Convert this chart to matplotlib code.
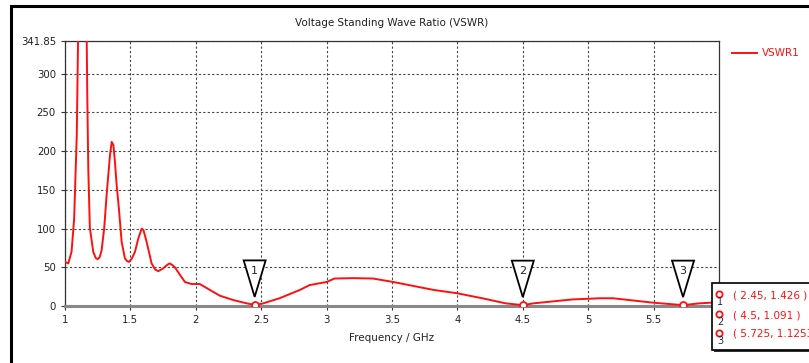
import numpy as np
import matplotlib
matplotlib.use("Agg")
import matplotlib.pyplot as plt
import matplotlib.transforms as mtransforms
from matplotlib.patches import Polygon, Rectangle

# VSWR curve
freq = [1.0, 1.025, 1.05, 1.07, 1.09, 1.10, 1.13, 1.166, 1.17, 1.178, 1.19, 1.216,
        1.235, 1.25, 1.265, 1.28, 1.30, 1.318, 1.344, 1.357, 1.37, 1.382, 1.395,
        1.412, 1.433, 1.458, 1.475, 1.489, 1.51, 1.535, 1.56, 1.586, 1.60,
        1.624, 1.662, 1.69, 1.713, 1.75, 1.78, 1.80, 1.82, 1.84, 1.88, 1.917,
        1.968, 2.03, 2.06, 2.108, 2.184, 2.286, 2.39, 2.45, 2.515, 2.64, 2.795,
        2.87, 2.95, 3.0, 3.06, 3.2, 3.355, 3.51, 3.82, 4.0, 4.19, 4.37, 4.5,
        4.58, 4.88, 5.09, 5.19, 5.495, 5.725, 5.85, 5.94, 6.0]
vswr = [57, 55, 70, 113, 221, 345, 450, 345, 277, 178, 101, 70,
        62, 60.5, 63, 72, 101, 143, 195, 212, 208, 186, 156,
        126, 83, 61.5, 58, 57, 61, 70, 87, 100, 98,
        83, 55, 47, 45, 48.5, 53, 55, 53, 50, 40, 31,
        28.4, 28.4, 25.5, 20.7, 13.3, 7.7, 3.4, 1.426, 3.4, 10, 20.7,
        27, 29.5, 31, 35.5, 36, 35.5, 31, 20.7, 16.4, 10, 3.4, 1.091,
        3.4, 8.5, 10, 10, 4.3, 1.1253, 3.4, 4.3, 5]

mark_f = [2.45, 4.5, 5.725]
mark_v = [1.426, 1.091, 1.1253]
mark_txt = ["2.45, 1.426", "4.5, 1.091", "5.725, 1.1253"]

yticks = [0, 50, 100, 150, 200, 250, 300, 341.85]
ytick_labels = ["0", "50", "100", "150", "200", "250", "300", "341.85"]
xticks = [1, 1.5, 2, 2.5, 3, 3.5, 4, 4.5, 5, 5.5]
xtick_labels = ["1", "1.5", "2", "2.5", "3", "3.5", "4", "4.5", "5", "5.5"]

W, H = 809, 363
fig = plt.figure(figsize=(W / 100, H / 100), dpi=100)
plt.rcParams['font.family'] = ['DejaVu Sans']

def fx(px):
    return px / W

def fy(py):
    return 1 - py / H

# outer frame
fig.add_artist(Rectangle((fx(11), fy(370)), fx(820) - fx(11), fy(6) - fy(370),
                         transform=fig.transFigure, fill=False, lw=2.2, ec='black'))

ax = fig.add_axes([fx(65), fy(306), fx(719) - fx(65), fy(41.4) - fy(306)])
ax.plot(freq, vswr, color='#ff1010', lw=1.4, zorder=3, clip_on=True,
        solid_joinstyle='round')
ax.set_xlim(1, 6)
ax.set_ylim(0, 341.85)
ax.set_xticks(xticks)
ax.set_xticklabels(xtick_labels)
ax.set_yticks(yticks)
ax.set_yticklabels(ytick_labels)
ax.tick_params(labelsize=7.3, length=3, width=0.8, colors='#333333', labelcolor='#222222')
ax.grid(True, ls=(0, (2, 2)), color='#444444', lw=0.8)
for s in ['top', 'right', 'left']:
    ax.spines[s].set_color('#333333')
    ax.spines[s].set_linewidth(0.9)
ax.spines['bottom'].set_color('#888888')
ax.spines['bottom'].set_linewidth(2.2)

ax.set_title("Voltage Standing Wave Ratio (VSWR)", fontsize=7.5, color='#222222', pad=11)
ax.set_xlabel("Frequency / GHz", fontsize=7.5, color='#222222', labelpad=6)

# marker flags
for i, (f, v) in enumerate(zip(mark_f, mark_v)):
    ax.plot([f], [v], 'o', ms=5, mfc='white', mec='#ff1010', mew=1.3, zorder=5)
    tr = fig.dpi_scale_trans + mtransforms.ScaledTranslation(f, v, ax.transData)
    tri = Polygon([(0, 0.08), (-0.11, 0.445), (0.11, 0.445)], closed=True,
                  fc='white', ec='black', lw=1.3, transform=tr, zorder=4, clip_on=False)
    ax.add_patch(tri)
    ax.text(0, 0.34, str(i + 1), transform=tr, fontsize=8, ha='center', va='center',
            color='#222222', zorder=6)

# legend
fig.add_artist(plt.Line2D([fx(732), fx(757)], [fy(53), fy(53)], color='#ff1010', lw=1.4,
                          transform=fig.transFigure))
fig.text(fx(762), fy(53), "VSWR1", fontsize=7.5, color='#ff1010', va='center')

# marker table
fig.add_artist(Rectangle((fx(714), fy(352)), fx(820) - fx(714), fy(285) - fy(352),
                         transform=fig.transFigure, fc='#333333', ec='none', zorder=9))
fig.add_artist(Rectangle((fx(712), fy(350)), fx(820) - fx(712), fy(283) - fy(350),
                         transform=fig.transFigure, fc='white', ec='black', lw=1.2, zorder=10))
row_y = [294, 314, 333]
for i, ry in enumerate(row_y):
    fig.add_artist(plt.Line2D([fx(719)], [fy(ry)], marker='o', ms=4.5, mfc='white',
                              mec='#ff1010', mew=1.3, transform=fig.transFigure, zorder=11))
    fig.text(fx(720), fy(ry + 8), str(i + 1), fontsize=7, color='#1a2a4a',
             ha='center', va='center', zorder=11)
    fig.text(fx(733), fy(ry + 1), "( " + mark_txt[i] + " )", fontsize=7.5, color='#ff1010',
             va='center', zorder=11)

fig.savefig("out.png", dpi=100)
